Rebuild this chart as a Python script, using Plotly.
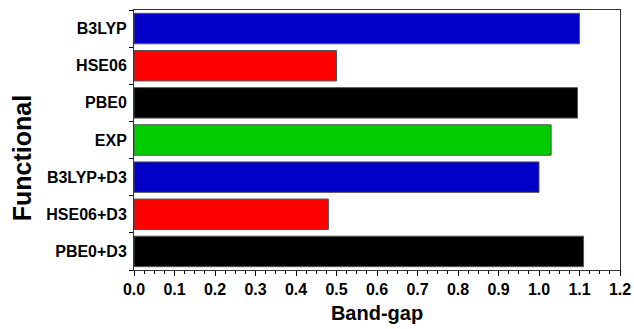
import plotly.graph_objects as go

# Band gaps computed with each functional (top to bottom)
functionals = ["B3LYP", "HSE06", "PBE0", "EXP", "B3LYP+D3", "HSE06+D3", "PBE0+D3"]
band_gaps = [1.10, 0.50, 1.095, 1.03, 1.00, 0.48, 1.11]
bar_colors = ["#0000C8", "#FF0000", "#000000", "#00CC00", "#0000C8", "#FF0000", "#000000"]
x_ticks = [round(0.1 * i, 1) for i in range(13)]

FONT = "Liberation Sans, Arial, sans-serif"

fig = go.Figure(
    go.Bar(
        x=band_gaps,
        y=functionals,
        orientation="h",
        marker=dict(color=bar_colors, line=dict(color="#555555", width=1)),
    )
)

fig.update_layout(
    width=634,
    height=329,
    margin=dict(l=134, r=14, t=10, b=59),
    paper_bgcolor="white",
    plot_bgcolor="white",
    bargap=0.18,
    showlegend=False,
    font=dict(family=FONT, color="black"),
)

fig.update_xaxes(
    range=[0, 1.2],
    automargin=False,
    tickvals=x_ticks,
    ticktext=[f"<b>{v:.1f}</b>" for v in x_ticks],
    tickfont=dict(size=16, family=FONT),
    ticks="outside",
    ticklen=5,
    tickwidth=1,
    tickcolor="black",
    minor=dict(dtick=0.025, ticks="outside", ticklen=3, tickcolor="black", tickwidth=1),
    showline=True,
    linecolor="#333333",
    linewidth=1,
    mirror=True,
    showgrid=False,
    zeroline=False,
    title=dict(text="<b>Band-gap</b>", font=dict(size=20, family=FONT), standoff=8),
)

fig.update_yaxes(
    automargin=False,
    categoryorder="array",
    categoryarray=functionals,
    autorange="reversed",
    tickson="boundaries",
    ticks="outside",
    ticklen=4,
    tickcolor="black",
    tickvals=functionals,
    ticktext=[f"<b>{f}</b>" for f in functionals],
    tickfont=dict(size=16, family=FONT),
    ticklabelstandoff=3,
    showline=True,
    linecolor="#333333",
    linewidth=1,
    mirror=True,
    showgrid=False,
)

# Vertical axis title, placed a little below the plot's mid-height
fig.add_annotation(
    text="<b>Functional</b>",
    textangle=-90,
    xref="paper",
    yref="paper",
    x=0,
    y=0.43,
    xanchor="center",
    yanchor="middle",
    xshift=-112,
    showarrow=False,
    font=dict(size=25, family=FONT, color="black"),
)

fig.write_html("out.html")
